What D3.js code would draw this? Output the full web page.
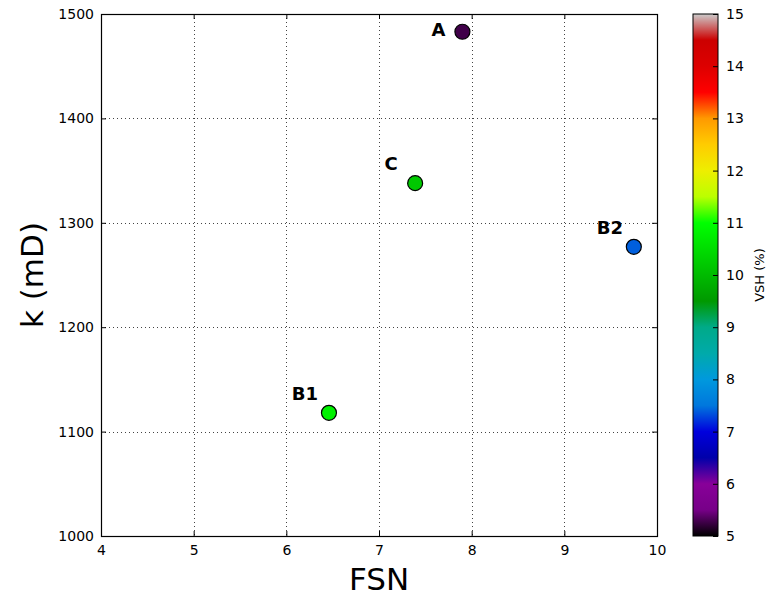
<!DOCTYPE html>
<html lang="en">
<head>
<meta charset="utf-8">
<title>FSN vs k</title>
<script src="https://cdn.jsdelivr.net/npm/d3@7"></script>
<style>
  body { margin: 0; background: #fff; }
  text { font-family: "DejaVu Sans", sans-serif; fill: #000; }
</style>
</head>
<body>
<script>
// data
var names = ["A", "C", "B2", "B1"];
var fsn = [7.9, 7.39, 9.75, 6.46];
var perm = [1483, 1338, 1277, 1118];
var vsh = [5.27, 10.2, 7.4, 10.8];

var xTicks = [4, 5, 6, 7, 8, 9, 10];
var yTicks = [1000, 1100, 1200, 1300, 1400, 1500];
var cTicks = [5, 6, 7, 8, 9, 10, 11, 12, 13, 14, 15];

// nipy_spectral stops (r, g, b in 0..1)
var cmapR = [0, .4667, .5333, 0, 0, 0, 0, 0, 0, 0, 0, 0, 0, .7333, .9333, 1, 1, 1, .8667, .8, .8];
var cmapG = [0, 0, 0, 0, 0, .4667, .6, .6667, .6667, .6, .7333, .8667, 1, 1, .9333, .8, .6, 0, 0, 0, .8];
var cmapB = [0, .5333, .6, .6667, .8667, .8667, .8667, .6667, .5333, 0, 0, 0, 0, 0, 0, 0, 0, 0, 0, 0, .8];

var W = 767, H = 596;
// plot box (window.top is reserved, so use pl/pr/pt/pb)
var pl = 101, pr = 657, pt = 14, pb = 536;

var svg = d3.select("body").append("svg")
  .attr("width", W).attr("height", H);

var x = d3.scaleLinear().domain([4, 10]).range([pl, pr]);
var y = d3.scaleLinear().domain([1000, 1500]).range([pb, pt]);

var stops = d3.range(cmapR.length).map(function(i) { return 5 + i * 0.5; });
var color = d3.scaleLinear()
  .domain(stops)
  .range(stops.map(function(s, i) {
    return d3.rgb(cmapR[i] * 255, cmapG[i] * 255, cmapB[i] * 255);
  }))
  .clamp(true);

// grid
var grid = svg.append("g").attr("stroke", "#444").attr("stroke-width", 1)
  .attr("stroke-dasharray", "1,3");
grid.selectAll(".gx").data(xTicks.slice(1, -1)).enter().append("line")
  .attr("x1", function(d) { return Math.round(x(d)) + 0.5; })
  .attr("x2", function(d) { return Math.round(x(d)) + 0.5; })
  .attr("y1", pt).attr("y2", pb);
grid.selectAll(".gy").data(yTicks.slice(1, -1)).enter().append("line")
  .attr("y1", function(d) { return Math.round(y(d)) + 0.5; })
  .attr("y2", function(d) { return Math.round(y(d)) + 0.5; })
  .attr("x1", pl).attr("x2", pr);

// axes with inward ticks on all sides
var fmt = d3.format("d");
var xb = svg.append("g").attr("transform", "translate(0," + pb + ")")
  .call(d3.axisBottom(x).tickValues(xTicks).tickFormat(fmt).tickSizeInner(-5).tickSizeOuter(0).tickPadding(9));
var xt = svg.append("g").attr("transform", "translate(0," + pt + ")")
  .call(d3.axisTop(x).tickValues(xTicks).tickSizeInner(-5).tickSizeOuter(0).tickFormat(""));
var yl = svg.append("g").attr("transform", "translate(" + pl + ",0)")
  .call(d3.axisLeft(y).tickValues(yTicks).tickFormat(fmt).tickSizeInner(-5).tickSizeOuter(0).tickPadding(7));
var yr = svg.append("g").attr("transform", "translate(" + pr + ",0)")
  .call(d3.axisRight(y).tickValues(yTicks).tickSizeInner(-5).tickSizeOuter(0).tickFormat(""));
[xb, xt, yl, yr].forEach(function(g) {
  g.select(".domain").remove();
  g.selectAll("line").attr("stroke", "#000");
  g.selectAll("text").style("font-size", "14px").attr("fill", "#000");
});

svg.append("rect")
  .attr("x", pl + 0.5).attr("y", pt + 0.5)
  .attr("width", pr - pl).attr("height", pb - pt)
  .attr("fill", "none").attr("stroke", "#000").attr("stroke-width", 1.2);

// points
svg.selectAll("circle.pt").data(names).enter().append("circle")
  .attr("class", "pt")
  .attr("cx", function(d, i) { return x(fsn[i]); })
  .attr("cy", function(d, i) { return y(perm[i]); })
  .attr("r", 7.5)
  .attr("fill", function(d, i) { return color(vsh[i]); })
  .attr("stroke", "#000").attr("stroke-width", 1.2);

svg.selectAll("text.lab").data(names).enter().append("text")
  .attr("class", "lab")
  .attr("x", function(d, i) { return x(fsn[i]) - 24; })
  .attr("y", function(d, i) { return Math.max(pt + 22, y(perm[i]) - 13); })
  .attr("text-anchor", "middle")
  .style("font-size", "18px").style("font-weight", "bold")
  .text(function(d) { return d; });

// axis titles
svg.append("text").attr("x", (pl + pr) / 2).attr("y", 590)
  .attr("text-anchor", "middle").style("font-size", "31px").text("FSN");
svg.append("text")
  .attr("transform", "translate(43," + (pt + pb) / 2 + ") rotate(-90)")
  .attr("text-anchor", "middle").style("font-size", "31px").text("k (mD)");

// colorbar
var cbX = 693, cbW = 25;
var cy = d3.scaleLinear().domain([5, 15]).range([pb, pt]);
var defs = svg.append("defs");
var grad = defs.append("linearGradient").attr("id", "cb")
  .attr("x1", 0).attr("y1", 1).attr("x2", 0).attr("y2", 0);
grad.selectAll("stop").data(stops).enter().append("stop")
  .attr("offset", function(d) { return (d - 5) / 10; })
  .attr("stop-color", function(d) { return color(d); });
svg.append("rect").attr("x", cbX).attr("y", pt)
  .attr("width", cbW).attr("height", pb - pt)
  .attr("fill", "url(#cb)").attr("stroke", "#000").attr("stroke-width", 1);

var ca = svg.append("g").attr("transform", "translate(" + (cbX + cbW) + ",0)")
  .call(d3.axisRight(cy).tickValues(cTicks).tickFormat(fmt).tickSizeInner(-5).tickSizeOuter(0).tickPadding(8));
ca.select(".domain").remove();
ca.selectAll("line").attr("stroke", "#000");
ca.selectAll("text").style("font-size", "14px").attr("fill", "#000");

svg.append("text")
  .attr("transform", "translate(764," + (pt + pb) / 2 + ") rotate(-90)")
  .attr("text-anchor", "middle").style("font-size", "13px").text("VSH (%)");
</script>
</body>
</html>
